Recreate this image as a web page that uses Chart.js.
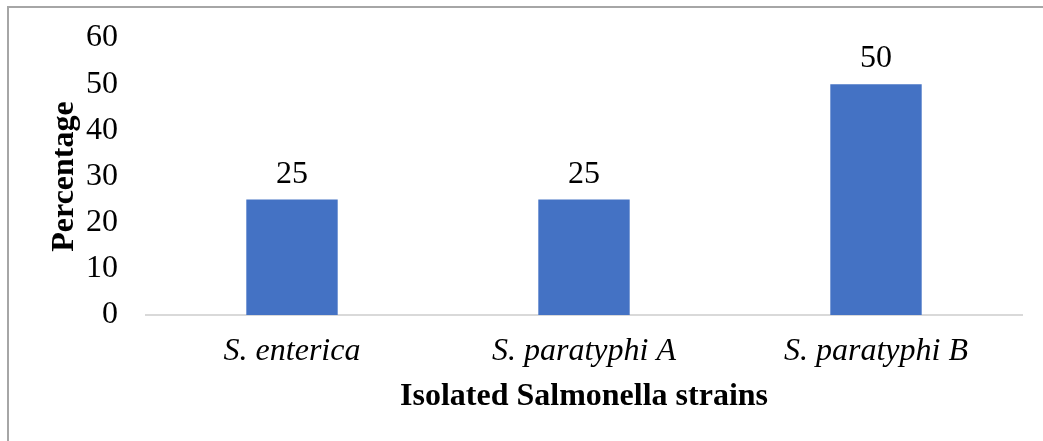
<!DOCTYPE html>
<html>
<head>
<meta charset="utf-8">
<script src="https://cdn.jsdelivr.net/npm/chart.js@4.4.1/dist/chart.umd.min.js"></script>
<style>
  html, body { margin: 0; padding: 0; background: #fff; overflow: hidden; }
  #wrap { position: relative; width: 1043px; height: 441px; }
  #frame { position: absolute; left: 7px; top: 6px; width: 1100px; height: 500px;
           border-top: 2px solid #a6a6a6; border-left: 2px solid #a6a6a6; }
  canvas { position: absolute; left: 0; top: 0; }
</style>
</head>
<body>
<div id="wrap">
  <div id="frame"></div>
  <canvas id="chart" width="1043" height="441"></canvas>
</div>
<script>
// Daten
const strains = ["S. enterica", "S. paratyphi A", "S. paratyphi B"];
const percentages = [25, 25, 50];
const yTicks = [0, 10, 20, 30, 40, 50, 60];

const serif = "'Liberation Serif', 'Times New Roman', serif";

// Werte über den Balken
const valueLabels = {
  id: "valueLabels",
  afterDatasetsDraw(chart) {
    const ctx = chart.ctx;
    const meta = chart.getDatasetMeta(0);
    ctx.save();
    ctx.font = "32px " + serif;
    ctx.fillStyle = "#000";
    ctx.textAlign = "center";
    ctx.textBaseline = "alphabetic";
    meta.data.forEach((bar, i) => {
      ctx.fillText(String(percentages[i]), bar.x, bar.y - 17);
    });
    ctx.restore();
  }
};

Chart.defaults.font.family = serif;
Chart.defaults.color = "#000";

new Chart(document.getElementById("chart"), {
  type: "bar",
  data: {
    labels: strains,
    datasets: [{
      data: percentages,
      backgroundColor: "#4472c4",
      borderWidth: 0,
      barPercentage: 1,
      categoryPercentage: 0.313
    }]
  },
  options: {
    responsive: false,
    animation: false,
    layout: { padding: { left: 49, right: 21, top: 38, bottom: 28 } },
    plugins: { legend: { display: false }, tooltip: { enabled: false } },
    scales: {
      y: {
        min: 0,
        max: 60,
        afterBuildTicks(scale) { scale.ticks = yTicks.map(v => ({ value: v })); },
        afterFit(scale) {
          scale.width = 97;
          // Tick-Padding nicht nach oben/unten wirken lassen
          scale.paddingTop = 16;
          scale.paddingBottom = 16;
        },
        grid: { display: false, drawTicks: false },
        border: { display: false },
        ticks: { font: { size: 32, lineHeight: 1 }, padding: 28 },
        title: {
          display: true,
          text: "Percentage",
          font: { size: 32, weight: "bold", lineHeight: 1 },
          padding: 0
        }
      },
      x: {
        afterFit(scale) { scale.height = 98; },
        grid: { display: false, drawTicks: false },
        border: { display: true, color: "#d9d9d9", width: 2 },
        ticks: { font: { size: 32, style: "italic", lineHeight: 1 }, padding: 21 },
        title: {
          display: true,
          text: "Isolated Salmonella strains",
          font: { size: 32, weight: "bold", lineHeight: 1 },
          padding: 0
        }
      }
    }
  },
  plugins: [valueLabels]
});
</script>
</body>
</html>
